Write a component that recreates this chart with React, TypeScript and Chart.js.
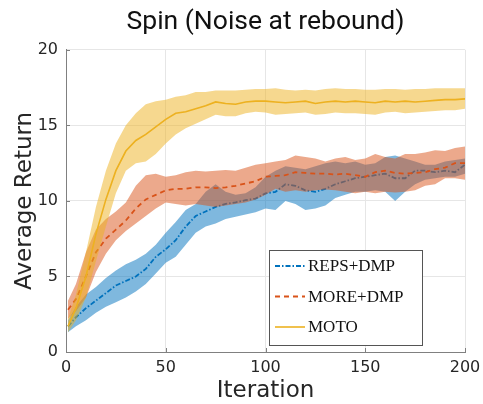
import React, { useEffect, useRef } from "react";
import { Chart, registerables } from "chart.js";

Chart.register(...registerables);

const iterations = [1, 5, 10, 15, 20, 25, 30, 35, 40, 45, 50, 55, 60, 65, 70, 75, 80, 85, 90, 95, 100, 105, 110, 115, 120, 125, 130, 135, 140, 145, 150, 155, 160, 165, 170, 175, 180, 185, 190, 195, 200];

const repsMean = [1.7, 2.3, 2.9, 3.4, 3.9, 4.4, 4.7, 5.0, 5.5, 6.3, 6.8, 7.4, 8.3, 9.0, 9.3, 9.6, 9.8, 9.9, 10.05, 10.15, 10.5, 10.6, 11.1, 11.0, 10.7, 10.6, 10.8, 11.1, 11.3, 11.5, 11.6, 11.7, 11.8, 11.5, 11.5, 12.0, 12.0, 11.9, 12.0, 11.9, 12.4];
const repsUpper = [2.1, 3.0, 3.8, 4.3, 4.9, 5.4, 5.8, 6.1, 6.5, 7.1, 7.9, 8.6, 9.4, 9.8, 10.6, 11.1, 10.6, 10.4, 10.5, 10.9, 11.6, 12.0, 12.3, 12.2, 12.1, 12.3, 12.5, 12.6, 12.5, 12.6, 12.4, 12.5, 12.9, 13.0, 12.8, 12.6, 12.4, 12.4, 12.6, 12.7, 12.8];
const repsLower = [1.3, 1.7, 2.1, 2.6, 3.0, 3.3, 3.6, 4.0, 4.5, 5.2, 5.9, 6.3, 7.1, 7.9, 8.3, 8.5, 8.8, 8.95, 9.1, 9.25, 9.5, 9.4, 10.0, 9.8, 9.4, 9.5, 9.7, 10.2, 10.4, 10.6, 10.6, 10.7, 10.6, 10.0, 10.6, 11.1, 11.4, 11.5, 11.6, 11.6, 11.8];

const moreMean = [2.8, 3.5, 5.0, 6.6, 7.5, 8.1, 8.7, 9.5, 10.1, 10.4, 10.7, 10.8, 10.8, 10.9, 10.9, 10.85, 10.9, 11.0, 11.15, 11.3, 11.6, 11.65, 11.7, 11.9, 11.85, 11.8, 11.8, 11.75, 11.8, 11.7, 11.6, 11.9, 12.0, 11.85, 11.8, 11.85, 11.9, 12.1, 12.2, 12.5, 12.5];
const moreUpper = [3.4, 4.5, 6.6, 8.1, 8.8, 9.3, 9.9, 11.0, 11.7, 11.8, 11.6, 11.7, 11.9, 12.0, 11.95, 12.0, 12.05, 12.0, 12.2, 12.4, 12.5, 12.6, 12.7, 13.0, 12.9, 12.8, 12.6, 12.8, 12.9, 12.7, 12.8, 13.1, 12.9, 12.8, 13.1, 13.1, 13.2, 13.35, 13.3, 13.5, 13.6];
const moreLower = [2.2, 2.7, 3.6, 5.3, 6.5, 7.4, 8.0, 8.5, 9.0, 9.5, 9.9, 9.8, 9.7, 9.8, 9.7, 9.6, 9.7, 9.8, 9.9, 10.1, 10.4, 10.8, 10.6, 10.7, 10.6, 10.7, 10.75, 10.7, 10.6, 10.5, 10.6, 10.5, 10.6, 10.55, 10.6, 10.7, 11.0, 11.1, 11.5, 11.5, 11.4];

const motoMean = [1.7, 2.9, 5.0, 7.8, 10.1, 12.0, 13.3, 14.0, 14.4, 14.9, 15.4, 15.8, 15.9, 16.1, 16.3, 16.55, 16.45, 16.4, 16.55, 16.6, 16.6, 16.55, 16.5, 16.55, 16.6, 16.45, 16.55, 16.6, 16.55, 16.6, 16.55, 16.5, 16.6, 16.55, 16.6, 16.55, 16.6, 16.65, 16.7, 16.7, 16.75];
const motoUpper = [2.2, 3.8, 6.6, 9.6, 12.0, 13.8, 15.0, 15.8, 16.4, 16.6, 16.7, 16.9, 17.0, 17.2, 17.2, 17.3, 17.3, 17.3, 17.35, 17.4, 17.4, 17.45, 17.35, 17.3, 17.35, 17.3, 17.4, 17.45, 17.4, 17.4, 17.35, 17.35, 17.4, 17.4, 17.35, 17.4, 17.4, 17.45, 17.45, 17.45, 17.45];
const motoLower = [1.3, 2.1, 3.6, 6.0, 8.3, 10.5, 12.0, 12.5, 12.6, 13.1, 13.8, 14.4, 14.8, 15.1, 15.4, 15.7, 15.6, 15.6, 15.8, 15.9, 15.85, 15.7, 15.75, 15.8, 15.85, 15.7, 15.75, 15.85, 15.8, 15.8, 15.75, 15.7, 15.85, 15.9, 15.8, 15.85, 15.9, 15.95, 16.0, 16.0, 16.1];

const xTicks = [0, 50, 100, 150, 200];
const yTicks = [0, 5, 10, 15, 20];
const seriesLabels = ["REPS+DMP", "MORE+DMP", "MOTO"];

const toPts = (arr: number[]) => arr.map((y, i) => ({ x: iterations[i], y }));

const AXIS_COLOR = "#808080";
const TEXT_COLOR = "#262626";

const innerTicks = {
  id: "innerTicks",
  afterDatasetsDraw(chart: any) {
    const { ctx, chartArea, scales } = chart;
    ctx.save();
    ctx.strokeStyle = AXIS_COLOR;
    ctx.lineWidth = 1;
    ctx.beginPath();
    for (const v of xTicks) {
      const px = Math.round(scales.x.getPixelForValue(v)) + 0.5;
      ctx.moveTo(px, chartArea.bottom);
      ctx.lineTo(px, chartArea.bottom - 4);
    }
    for (const v of yTicks) {
      const py = Math.round(scales.y.getPixelForValue(v)) + 0.5;
      ctx.moveTo(chartArea.left, py);
      ctx.lineTo(chartArea.left + 4, py);
    }
    ctx.stroke();
    ctx.restore();
  },
};

const boxLegend = {
  id: "boxLegend",
  afterDraw(chart: any) {
    const { ctx } = chart;
    const lines = chart.data.datasets.filter((d: any) => d.isLine);
    const order = seriesLabels.map((l) => lines.find((d: any) => d.label === l));
    const x0 = 269.5, y0 = 250.5, w = 153, h = 95;
    ctx.save();
    ctx.fillStyle = "#ffffff";
    ctx.fillRect(x0, y0, w, h);
    ctx.strokeStyle = "#555555";
    ctx.lineWidth = 1;
    ctx.strokeRect(x0, y0, w, h);
    order.forEach((d: any, i: number) => {
      const cy = 266 + i * 30.5;
      ctx.strokeStyle = d.borderColor;
      ctx.lineWidth = d.borderWidth;
      ctx.setLineDash(d.borderDash || []);
      ctx.beginPath();
      ctx.moveTo(275, cy);
      ctx.lineTo(305, cy);
      ctx.stroke();
      ctx.setLineDash([]);
      ctx.fillStyle = "#111111";
      ctx.font = '17px "Liberation Serif"';
      ctx.textBaseline = "middle";
      ctx.textAlign = "left";
      ctx.fillText(d.label, 308, cy + 1);
    });
    ctx.restore();
  },
};

function band(upper: number[], lower: number[], fillColor: string, order: number) {
  return [
    {
      label: "upper",
      data: toPts(upper),
      borderWidth: 0,
      pointRadius: 0,
      backgroundColor: fillColor,
      fill: "+1",
      order,
      tension: 0,
    },
    {
      label: "lower",
      data: toPts(lower),
      borderWidth: 0,
      pointRadius: 0,
      fill: false,
      order,
      tension: 0,
    },
  ];
}

function line(label: string, data: number[], color: string, dash: number[], width: number, order: number) {
  return {
    label,
    isLine: true,
    data: toPts(data),
    borderColor: color,
    borderWidth: width,
    borderDash: dash,
    pointRadius: 0,
    fill: false,
    order,
    tension: 0,
  };
}

const zeroPad = (s: any) => {
  s.paddingLeft = 0;
  s.paddingRight = 0;
  s.paddingTop = 0;
  s.paddingBottom = 0;
};

export default function App() {
  const ref = useRef<HTMLCanvasElement>(null);

  useEffect(() => {
    if (!ref.current) return;
    const datasets: any[] = [
      ...band(repsUpper, repsLower, "rgba(0,114,189,0.5)", 6),
      line(seriesLabels[0], repsMean, "#0072BD", [5, 2, 1.5, 2], 1.8, 5),
      ...band(moreUpper, moreLower, "rgba(217,83,25,0.5)", 4),
      line(seriesLabels[1], moreMean, "#D95319", [5, 4], 1.8, 3),
      ...band(motoUpper, motoLower, "rgba(237,177,32,0.5)", 2),
      line(seriesLabels[2], motoMean, "#EDB120", [], 1.6, 1),
    ];
    const chart = new Chart(ref.current, {
      type: "line",
      data: { datasets },
      options: {
        animation: false,
        responsive: false,
        layout: { padding: { left: 0, right: 18, top: 0, bottom: 0 } },
        plugins: {
          legend: { display: false },
          tooltip: { enabled: false },
          title: {
            display: true,
            text: "Spin (Noise at rebound)",
            fullSize: false,
            color: "#111111",
            font: { family: "Roboto", size: 26.5, weight: "normal", lineHeight: 1.2 },
            padding: { top: 6, bottom: 12 },
          },
        },
        scales: {
          x: {
            type: "linear",
            min: 0,
            max: 200,
            afterFit: (s: any) => {
              s.height = 52;
              zeroPad(s);
            },
            afterBuildTicks: (s: any) => {
              s.ticks = xTicks.map((v) => ({ value: v }));
            },
            grid: { color: "#e6e6e6", drawTicks: false },
            border: { color: AXIS_COLOR, width: 1 },
            ticks: {
              color: TEXT_COLOR,
              padding: 6,
              maxRotation: 0,
              font: { family: "DejaVu Sans", size: 16 },
            },
            title: {
              display: true,
              text: "Iteration",
              color: TEXT_COLOR,
              font: { family: "DejaVu Sans", size: 23, lineHeight: 1.1 },
              padding: { top: 0, bottom: 0 },
            },
          },
          y: {
            type: "linear",
            min: 0,
            max: 20,
            afterFit: (s: any) => {
              s.width = 66;
              zeroPad(s);
            },
            afterBuildTicks: (s: any) => {
              s.ticks = yTicks.map((v) => ({ value: v }));
            },
            grid: { color: "#e6e6e6", drawTicks: false },
            border: { color: AXIS_COLOR, width: 1 },
            ticks: {
              color: TEXT_COLOR,
              padding: 8,
              font: { family: "DejaVu Sans", size: 16 },
            },
            title: {
              display: true,
              text: "Average Return",
              color: TEXT_COLOR,
              font: { family: "DejaVu Sans", size: 23, lineHeight: 1.1 },
              padding: { top: 12, bottom: 0 },
            },
          },
        },
      },
      plugins: [innerTicks, boxLegend],
    });
    return () => chart.destroy();
  }, []);

  return (
    <div style={{ position: "absolute", left: 0, top: 0, width: 483, height: 404, background: "#fff" }}>
      <canvas ref={ref} width={483} height={404} style={{ display: "block" }} />
    </div>
  );
}
